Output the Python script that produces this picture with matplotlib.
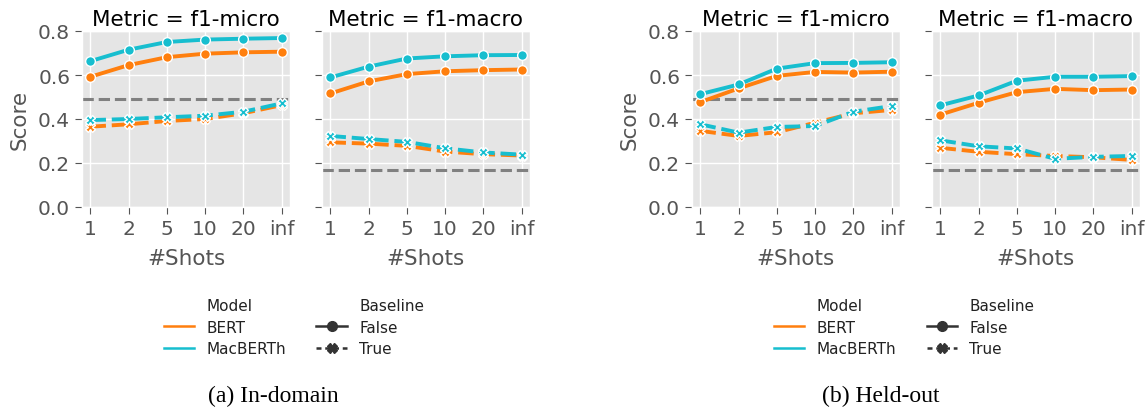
import matplotlib
matplotlib.use("Agg")
import matplotlib.pyplot as plt
from matplotlib.lines import Line2D

# ---------------- data ----------------
shots = ['1', '2', '5', '10', '20', 'inf']

# (a) In-domain
in_micro_bert = [0.592, 0.645, 0.681, 0.697, 0.703, 0.706]
in_micro_macberth = [0.663, 0.715, 0.750, 0.761, 0.765, 0.768]
in_micro_bert_base = [0.365, 0.376, 0.391, 0.400, 0.426, 0.463]
in_micro_macberth_base = [0.395, 0.400, 0.408, 0.415, 0.433, 0.471]

in_macro_bert = [0.516, 0.571, 0.604, 0.617, 0.622, 0.625]
in_macro_macberth = [0.589, 0.638, 0.675, 0.685, 0.690, 0.691]
in_macro_bert_base = [0.294, 0.288, 0.278, 0.252, 0.240, 0.234]
in_macro_macberth_base = [0.323, 0.309, 0.296, 0.267, 0.248, 0.238]

# (b) Held-out
ho_micro_bert = [0.477, 0.539, 0.596, 0.614, 0.611, 0.615]
ho_micro_macberth = [0.513, 0.557, 0.629, 0.654, 0.655, 0.658]
ho_micro_bert_base = [0.346, 0.323, 0.340, 0.383, 0.426, 0.441]
ho_micro_macberth_base = [0.376, 0.338, 0.364, 0.368, 0.433, 0.459]

ho_macro_bert = [0.420, 0.474, 0.522, 0.537, 0.531, 0.534]
ho_macro_macberth = [0.462, 0.507, 0.574, 0.592, 0.592, 0.595]
ho_macro_bert_base = [0.269, 0.251, 0.240, 0.232, 0.226, 0.214]
ho_macro_macberth_base = [0.303, 0.276, 0.266, 0.219, 0.228, 0.232]

# gray dashed reference lines
micro_ref = 0.489
macro_ref = 0.168

colors = {'BERT': '#ff7f0e', 'MacBERTh': '#17becf'}

# ---------------- style ----------------
plt.style.use('ggplot')
plt.rcParams['font.family'] = ['DejaVu Sans']

fig = plt.figure(figsize=(11.48, 4.10), dpi=100)

W, H = 1148.0, 410.0
ax_w, ax_top, ax_bot = 208, 32, 208
lefts = [82, 322, 692, 932]

panels = [
    ('f1-micro', in_micro_bert, in_micro_macberth, in_micro_bert_base, in_micro_macberth_base, micro_ref),
    ('f1-macro', in_macro_bert, in_macro_macberth, in_macro_bert_base, in_macro_macberth_base, macro_ref),
    ('f1-micro', ho_micro_bert, ho_micro_macberth, ho_micro_bert_base, ho_micro_macberth_base, micro_ref),
    ('f1-macro', ho_macro_bert, ho_macro_macberth, ho_macro_bert_base, ho_macro_macberth_base, macro_ref),
]

x = list(range(len(shots)))
for i, (metric, bert, mac, bert_b, mac_b, ref) in enumerate(panels):
    ax = fig.add_axes([lefts[i] / W, 1 - ax_bot / H, ax_w / W, (ax_bot - ax_top) / H])
    ax.axhline(ref, color='#808080', lw=2.2, ls='--', zorder=1)
    for name, ys, ysb in [('BERT', bert, bert_b), ('MacBERTh', mac, mac_b)]:
        ax.plot(x, ys, color=colors[name], lw=2.8, marker='o', ms=7,
                mec='white', mew=1.0, zorder=3)
        ax.plot(x, ysb, color=colors[name], lw=2.8, ls=(0, (4, 1.5)), marker='X', ms=7,
                mec='white', mew=1.0, zorder=3)
    ax.set_ylim(0, 0.8)
    ax.set_xlim(-0.22, 5.22)
    ax.set_xticks(x)
    ax.set_xticklabels(shots)
    ax.set_yticks([0.0, 0.2, 0.4, 0.6, 0.8])
    ax.tick_params(labelsize=14.5, colors='#555555', length=5)
    ax.grid(True, color='white', lw=1.0)
    ax.set_title('Metric = ' + metric, fontsize=15.5, color='black', pad=4)
    ax.set_xlabel('#Shots', fontsize=15.5, color='#555555', labelpad=7)
    if i % 2 == 0:
        ax.set_ylabel('Score', fontsize=15.5, color='#555555', labelpad=6)
    else:
        ax.set_yticklabels([])

# ---------------- legends ----------------
def legend_handles():
    blank = Line2D([], [], color='none')
    h = [blank,
         Line2D([], [], color=colors['BERT'], lw=1.8),
         Line2D([], [], color=colors['MacBERTh'], lw=1.8),
         blank,
         Line2D([], [], color='#333333', lw=1.8, marker='o', ms=7),
         Line2D([], [], color='#333333', lw=1.8, ls=(0, (2, 1.5)), marker='X', ms=7)]
    lab = ['Model', 'BERT', 'MacBERTh', 'Baseline', 'False', 'True']
    return h, lab

for cx in [0.256, 0.7875]:
    h, lab = legend_handles()
    fig.legend(h, lab, loc='upper center', bbox_to_anchor=(cx, 0.305),
               ncol=2, frameon=False, fontsize=11, handlelength=2.0,
               handletextpad=0.8, columnspacing=2.0, labelspacing=0.45,
               labelcolor='#222222')

# captions
fig.text(0.238, 0.034, '(a) In-domain', ha='center', va='center',
         fontsize=17, family='Liberation Serif', color='black')
fig.text(0.767, 0.034, '(b) Held-out', ha='center', va='center',
         fontsize=17, family='Liberation Serif', color='black')

fig.savefig('out.png', dpi=100, facecolor='white')
